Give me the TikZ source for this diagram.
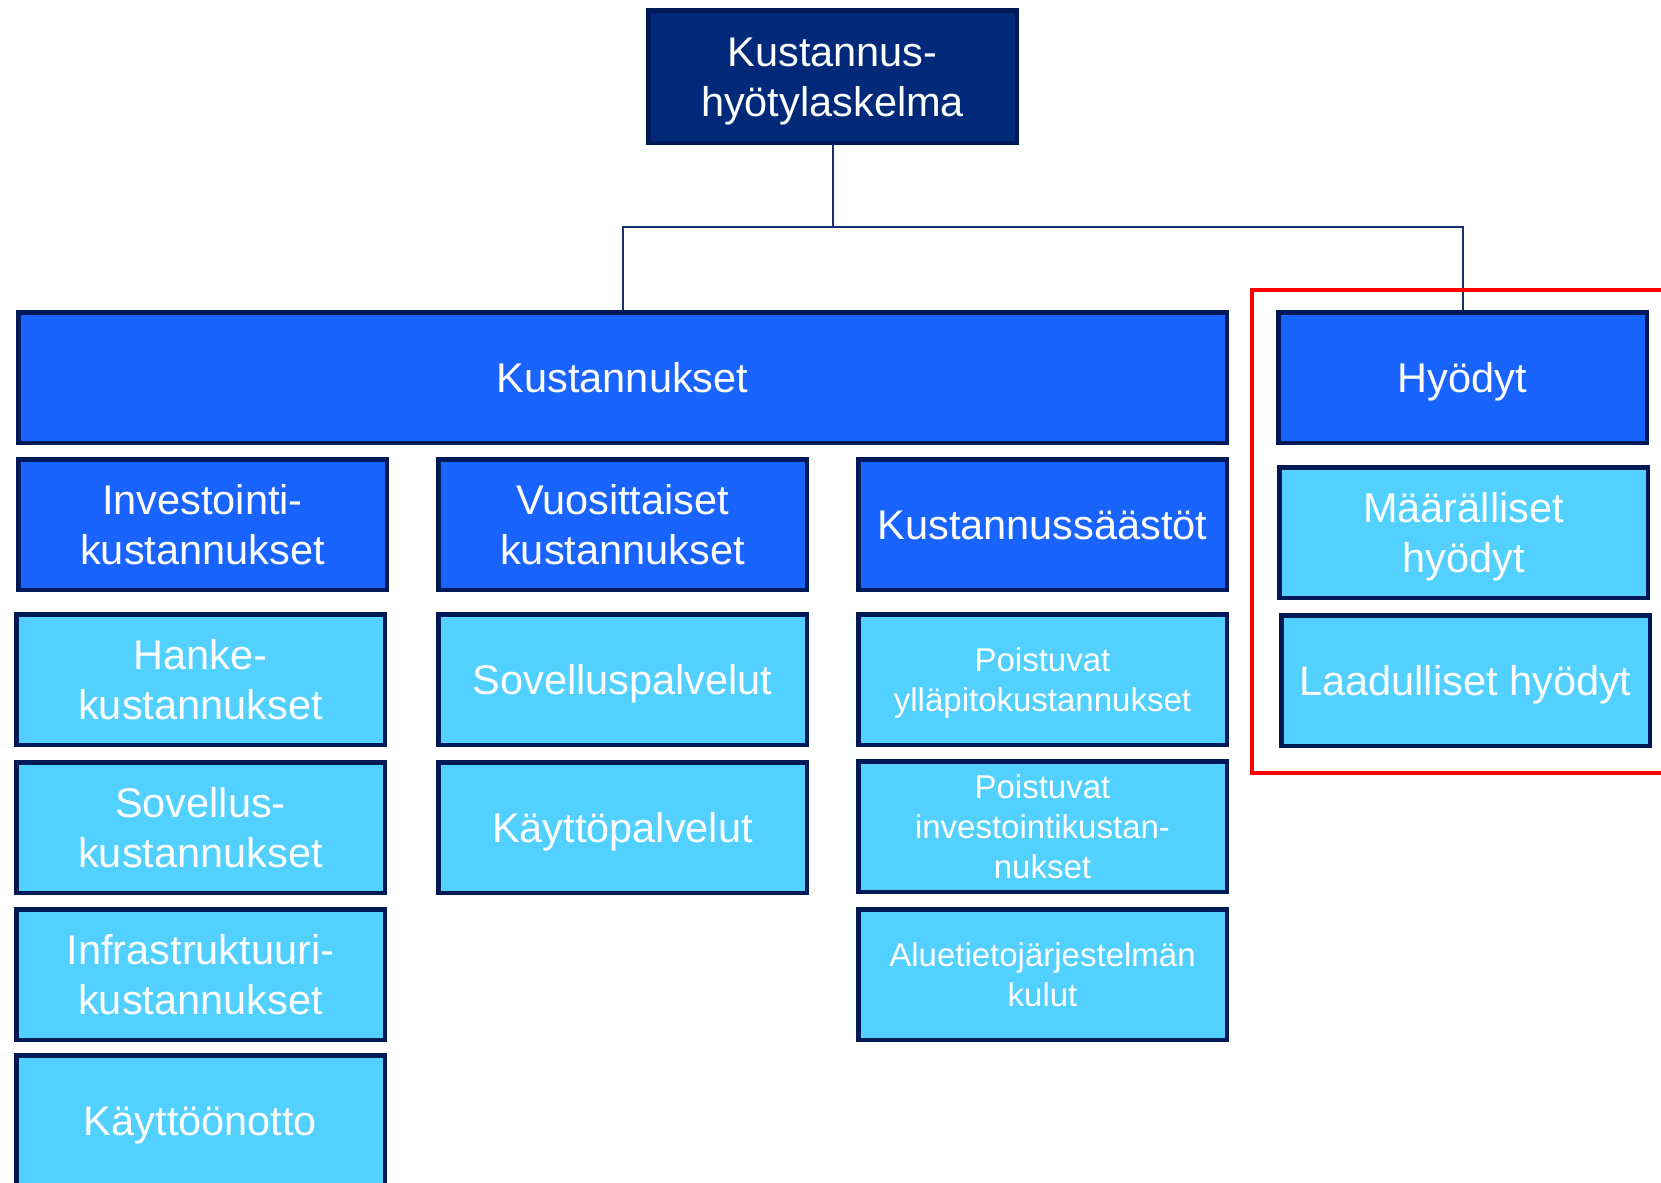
\documentclass[tikz,border=0pt]{standalone}
\usepackage{fontspec}
\setmainfont{Liberation Sans}
\usepackage{tikz}
\definecolor{navy}{HTML}{00297A}
\definecolor{edge}{HTML}{001A57}
\definecolor{mid}{HTML}{1964FF}
\definecolor{light}{HTML}{52D0FF}
\definecolor{line}{HTML}{1A2F6E}
\definecolor{frame}{HTML}{FF0000}

\begin{document}
\begin{tikzpicture}[x=0.5pt,y=-0.5pt]
	\tikzstyle{box}=[draw=edge,line width=2.25pt,rectangle,anchor=north west,inner sep=0pt,align=center,text=white,minimum width=184.25pt,minimum height=65.25pt,font=\fontsize{20.75}{25}\selectfont,text height=14.9pt,text depth=0pt]
	\tikzstyle{two}=[text height=39.9pt]
	\tikzstyle{small}=[font=\fontsize{16.5}{20}\selectfont,text height=31.8pt]
	\tikzstyle{conn}=[draw=line,line width=1pt]

	\useasboundingbox (0,0) rectangle (1661,1183);
	\clip (0,0) rectangle (1661,1183);

	\node[box,two,fill=navy,minimum height=66.25pt] (calc) at (646,8) {Kustannus-\\hyötylaskelma};

	\node[box,fill=mid,minimum width=604.25pt] (cost) at (16,310) {Kustannukset};
	\node[box,fill=mid] (gain) at (1276,310) {Hyödyt};

	\node[box,two,fill=mid] (invest) at (16,457) {Investointi-\\kustannukset};
	\node[box,two,fill=mid] (annual) at (436,457) {Vuosittaiset\\kustannukset};
	\node[box,fill=mid] (saving) at (856,457) {Kustannussäästöt};

	\node[box,two,fill=light] (project) at (14,612) {Hanke-\\kustannukset};
	\node[box,two,fill=light] (software) at (14,760) {Sovellus-\\kustannukset};
	\node[box,two,fill=light] (infra) at (14,907) {Infrastruktuuri-\\kustannukset};
	\node[box,fill=light] (deploy) at (14,1053) {Käyttöönotto};

	\node[box,fill=light] (appsvc) at (436,612) {Sovelluspalvelut};
	\node[box,fill=light] (opsvc) at (436,760) {Käyttöpalvelut};

	\node[box,small,fill=light] (maint) at (856,612) {Poistuvat\\ylläpitokustannukset};
	\node[box,small,fill=light,text height=51.8pt] (oldinv) at (856,759) {Poistuvat\\investointikustan-\\nukset};
	\node[box,small,fill=light] (gis) at (856,907) {Aluetietojärjestelmän\\kulut};

	\node[box,two,fill=light] (quant) at (1277,465) {Määrälliset\\hyödyt};
	\node[box,fill=light] (qual) at (1279,613) {Laadulliset hyödyt};

	\coordinate (bus) at (832.5,227);
	\draw[conn] (calc.south) -- (bus);
	\draw[conn] (bus) -| (cost.north);
	\draw[conn] (bus) -| (gain.north);

	% highlight
	\draw[frame,line width=2pt] (1252,290) rectangle (1700,773);
\end{tikzpicture}
\end{document}
